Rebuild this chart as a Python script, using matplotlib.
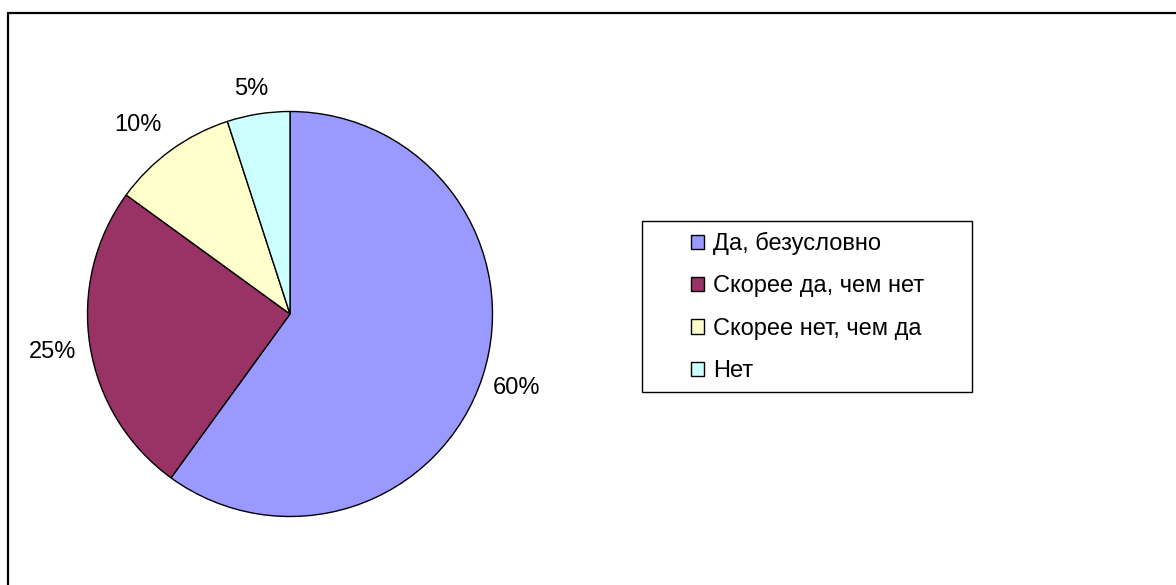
import matplotlib
matplotlib.use("Agg")
import matplotlib.pyplot as plt
from matplotlib.patches import Rectangle, Patch
import numpy as np

plt.rcParams['font.family'] = ['Liberation Sans', 'DejaVu Sans']

categories = ['Да, безусловно', 'Скорее да, чем нет', 'Скорее нет, чем да', 'Нет']
values = [60, 25, 10, 5]
colors = ['#9999FF', '#993366', '#FFFFCC', '#CCFFFF']

W, H = 1176, 585
fig = plt.figure(figsize=(W / 100, H / 100), dpi=100)

# outer chart border (open at right and bottom like the original crop)
fig.patches.append(Rectangle((8 / W, -0.1), 1.2, 1.1 - 13 / H, transform=fig.transFigure,
                             fill=False, edgecolor='black', linewidth=1.6))

cx, cy, r = 290, 314, 202.5
ax = fig.add_axes([(cx - r) / W, (H - cy - r) / H, 2 * r / W, 2 * r / H])
wedges, _ = ax.pie(values, colors=colors, startangle=90, counterclock=False,
                   wedgeprops=dict(edgecolor='black', linewidth=1.0))
ax.set_xlim(-1, 1)
ax.set_ylim(-1, 1)
ax.set_aspect('equal')

fs = 17
label_dist = [1.175, 1.185, 1.19, 1.135]
nudge = [(0, 0), (0, 0), (-10, -6), (-3, -2)]  # pixels
for w, v, d, (nx, ny) in zip(wedges, values, label_dist, nudge):
    ang = np.deg2rad((w.theta1 + w.theta2) / 2)
    ax.annotate(f'{v}%', (d * np.cos(ang), d * np.sin(ang)), xytext=(nx, ny),
                textcoords='offset pixels', ha='center', va='center', fontsize=fs,
                annotation_clip=False)

# legend frame
fig.patches.append(Rectangle((642 / W, 1 - 392 / H), (972 - 642) / W, (392 - 221) / H,
                             transform=fig.transFigure, fill=False,
                             edgecolor='black', linewidth=1.0))
handles = [Patch(facecolor=c, edgecolor='black', linewidth=1.0) for c in colors]
leg = fig.legend(handles, categories, loc='upper left',
                 bbox_to_anchor=(691 / W, 1 - 232 / H),
                 fontsize=fs, frameon=False,
                 handlelength=0.55, handleheight=0.55, handletextpad=0.4,
                 labelspacing=0.86, borderpad=0, borderaxespad=0)

fig.savefig('out.png', dpi=100)
